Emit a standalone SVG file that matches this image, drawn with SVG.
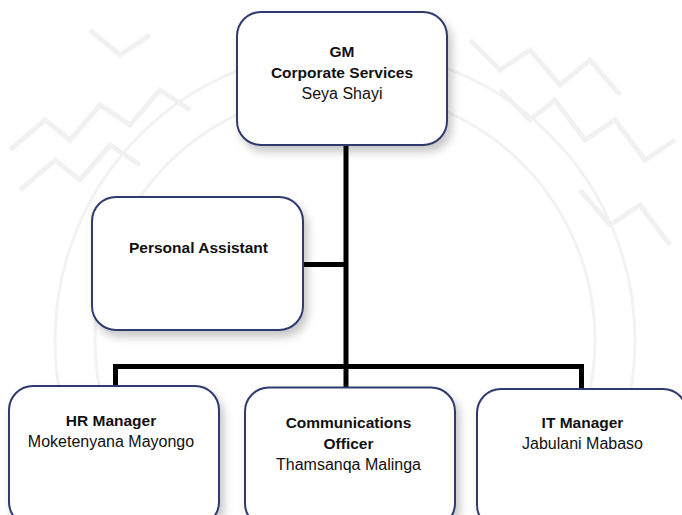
<svg xmlns="http://www.w3.org/2000/svg" width="682" height="515" viewBox="0 0 682 515">
  <defs>
    <filter id="shadow" x="-20%" y="-20%" width="150%" height="150%">
      <feDropShadow dx="4" dy="6" stdDeviation="4" flood-color="#000000" flood-opacity="0.22"/>
    </filter>
    <style>
      .box { fill: #ffffff; stroke: #2e3a6c; stroke-width: 2; filter: url(#shadow); }
      .wire { fill: none; stroke: #000000; stroke-width: 5; stroke-linecap: butt; stroke-linejoin: miter; }
      .wm { fill: none; stroke: #f1f1f1; stroke-width: 5; stroke-linejoin: miter; }
      .wm2 { fill: none; stroke: #f2f2f2; stroke-width: 3; }
      text { font-family: "Liberation Sans", Arial, sans-serif; fill: #111111; text-anchor: middle; }
      .b { font-weight: bold; font-size: 15.5px; }
      .r { font-size: 16px; }
    </style>
  </defs>

  <rect width="682" height="515" fill="#ffffff"/>

  <g id="watermark">
    <circle class="wm2" cx="345" cy="340" r="290"/>
    <circle class="wm2" cx="345" cy="340" r="250"/>
    <polyline class="wm" points="10,150 45,120 70,140 100,105 130,125 160,90 190,110"/>
    <polyline class="wm" points="20,190 55,160 80,180 110,145 140,165"/>
    <polyline class="wm" points="470,40 500,70 530,50 560,85 590,60 620,95"/>
    <polyline class="wm" points="500,90 530,120 555,100 585,140 615,120 645,160 675,140"/>
    <polyline class="wm" points="580,190 610,225 640,205 670,245"/>
    <polyline class="wm" points="90,30 120,55 150,35"/>
    <polyline class="wm2" points="60,480 90,440 120,500"/>
    <polyline class="wm2" points="600,470 640,430 670,500"/>
  </g>

  <g id="connectors">
    <line class="wire" x1="346" y1="145" x2="346" y2="368.5"/>
    <line class="wire" x1="300" y1="264.5" x2="346" y2="264.5"/>
    <polyline class="wire" points="115.5,387 115.5,366.5 581.5,366.5 581.5,389"/>
    <line class="wire" x1="346" y1="366" x2="346" y2="388"/>
  </g>

  <g id="node-gm">
    <rect class="box" x="237" y="12" width="210" height="133" rx="24" ry="24"/>
    <text class="b" x="342" y="57">GM</text>
    <text class="b" x="342" y="78">Corporate Services</text>
    <text class="r" x="342" y="99">Seya Shayi</text>
  </g>

  <g id="node-pa">
    <rect class="box" x="92" y="197" width="211" height="133" rx="24" ry="24"/>
    <text class="b" x="198.5" y="252.5">Personal Assistant</text>
  </g>

  <g id="node-hr">
    <rect class="box" x="9" y="386" width="210" height="140" rx="24" ry="24"/>
    <text class="b" x="111" y="426">HR Manager</text>
    <text class="r" x="111" y="447">Moketenyana Mayongo</text>
  </g>

  <g id="node-comm">
    <rect class="box" x="245" y="387.5" width="210" height="140" rx="24" ry="24"/>
    <text class="b" x="348.5" y="427.5">Communications</text>
    <text class="b" x="348.5" y="448.5">Officer</text>
    <text class="r" x="348.5" y="469.5">Thamsanqa Malinga</text>
  </g>

  <g id="node-it">
    <rect class="box" x="477" y="389" width="210" height="140" rx="24" ry="24"/>
    <text class="b" x="582.5" y="427.5">IT Manager</text>
    <text class="r" x="582.5" y="448.5">Jabulani Mabaso</text>
  </g>
</svg>
